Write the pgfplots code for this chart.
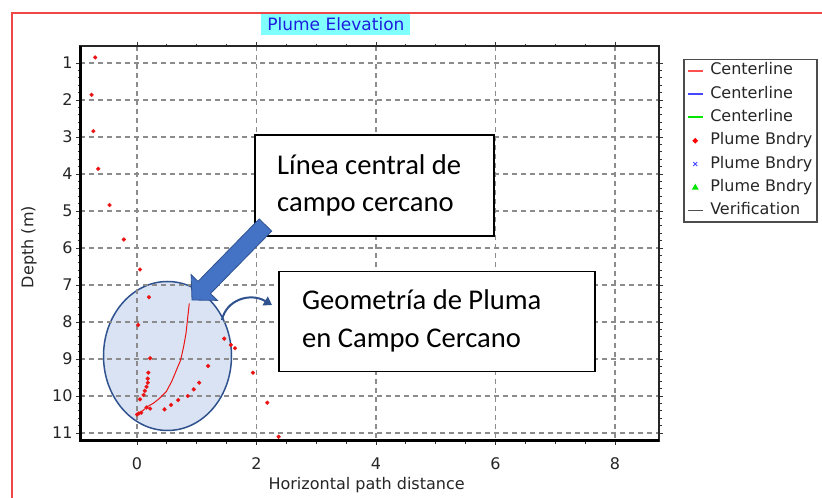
\documentclass[border=0pt]{standalone}
\usepackage{pgfplots}
\pgfplotsset{compat=1.18}
\usepackage{fontspec}
\setmainfont{DejaVu Sans}
\newfontfamily\carlito{Carlito}
\usetikzlibrary{arrows.meta}

\definecolor{ellfill}{RGB}{218,227,243}
\definecolor{elldraw}{RGB}{47,82,143}
\definecolor{arrfill}{RGB}{68,114,196}
\definecolor{gridgray}{RGB}{140,140,140}
\definecolor{ptred}{RGB}{235,20,20}
\definecolor{titlebg}{RGB}{128,255,255}
\definecolor{titlefg}{RGB}{30,30,220}
\definecolor{frame}{RGB}{240,70,70}
\definecolor{legred}{RGB}{255,80,80}
\definecolor{legblue}{RGB}{70,70,255}
\definecolor{leggreen}{RGB}{0,230,0}
\definecolor{leggray}{RGB}{80,80,80}
\newcommand{\chartfont}{\fontsize{16bp}{19bp}\selectfont}

\begin{document}
\begin{tikzpicture}
\useasboundingbox (0,0) rectangle (822bp,498bp);
\fill[white] (0,0) rectangle (822bp,498bp);
\begin{scope}[x=1bp,y=-1bp,yshift=498bp]
 \draw[frame, line width=1.2bp] (12,498) -- (12,13) -- (822,13);
 \draw[elldraw, fill=ellfill, line width=1.5bp] (167.5,356) ellipse [x radius=64bp, y radius=74.5bp];
\end{scope}

\begin{axis}[
  at={(369.5bp,254.5bp)}, anchor=center,
  scale only axis, width=579bp, height=395bp,
  xmin=-0.954, xmax=8.736, ymin=0.541, ymax=11.216, y dir=reverse,
  xtick={0,2,4,6,8}, ytick={1,2,3,4,5,6,7,8,9,10,11},
  minor x tick num=3, minor y tick num=4,
  tick align=outside, major tick length=4bp, minor tick length=2.5bp,
  tick style={black!80, line width=0.8bp},
  grid=major, grid style={gridgray, line width=1.1bp, dash pattern=on 5bp off 4bp},
  axis line style={black!85, line width=1.5bp},
  ticklabel style={font=\chartfont, text=black!85},
  xticklabel style={yshift=-9bp},
  /pgf/number format/assume math mode=true,
  xlabel={Horizontal path distance}, ylabel={Depth (m)},
  xlabel style={at={(axis description cs:0.495,-0.111)}, anchor=center, font=\chartfont, text=black!85},
  ylabel style={at={(axis description cs:-0.088,0.491)}, anchor=center, font=\chartfont, text=black!85},
  title={Plume Elevation},
  title style={at={(axis description cs:0.442,1.053)}, anchor=center, yshift=-5bp, fill=titlebg, text=titlefg, font=\fontsize{17bp}{20bp}\selectfont, inner xsep=6bp, inner ysep=4bp},
  legend style={at={(axis description cs:1.0415,0.968)}, anchor=north west, draw=black!70, line width=1.5bp, fill=white, font=\chartfont, text=black!85, row sep=4.3bp, nodes={inner sep=1.5bp, text height=12bp, text depth=4bp}, /tikz/every odd column/.append style={column sep=5bp}},
  legend cell align=left,
]
\addplot[ptred, line width=1bp, legend image code/.code={\draw[legred, line width=2bp] (0bp,0bp)--(15bp,0bp);}] coordinates {
(0.875,7.50) (0.85,7.86) (0.82,8.31) (0.78,8.67) (0.73,9.03) (0.66,9.30) (0.58,9.61) (0.49,9.88) (0.38,10.06) (0.27,10.20) (0.17,10.29) (0.11,10.38) (0.05,10.45)
};
\addlegendentry{Centerline}
\addlegendimage{legend image code/.code={\draw[legblue, line width=2bp] (0bp,0bp)--(15bp,0bp);}}
\addlegendentry{Centerline}
\addlegendimage{legend image code/.code={\draw[leggreen, line width=2bp] (0bp,0bp)--(15bp,0bp);}}
\addlegendentry{Centerline}
\addplot[only marks, mark=*, mark size=1.9bp, ptred, legend image code/.code={\fill[red](7.5bp,0bp) circle (1.8bp);}] coordinates {
(-0.70,0.85) (-0.76,1.86) (-0.73,2.84) (-0.65,3.86) (-0.46,4.84) (-0.22,5.77)
(0.05,6.58) (0.20,7.33) (0.02,8.08) (0.22,8.98) (0.19,9.37) (0.18,9.53) (0.18,9.64) (0.16,9.75) (0.13,9.86) (0.11,9.97) (0.05,10.09) (0.16,10.31) (0.22,10.34) (0.07,10.45) (0.03,10.47) (0.00,10.50)
(1.46,8.45) (1.57,8.62) (1.64,8.71) (1.19,9.19) (1.94,9.37) (1.04,9.64) (0.95,9.82) (0.85,10.0) (0.69,10.11) (0.57,10.24) (0.46,10.36) (2.18,10.18) (2.37,11.1)
};
\addlegendentry{Plume Bndry}
\addlegendimage{legend image code/.code={\draw[legblue, line width=0.9bp] (5.5bp,-2bp)--(9.5bp,2bp) (5.5bp,2bp)--(9.5bp,-2bp);}}
\addlegendentry{Plume Bndry}
\addlegendimage{legend image code/.code={\fill[leggreen] (5.3bp,-1.6bp)--(9.7bp,-1.6bp)--(7.5bp,2.2bp)--cycle;}}
\addlegendentry{Plume Bndry}
\addlegendimage{legend image code/.code={\draw[leggray, line width=1.2bp] (0bp,0bp)--(15bp,0bp);}}
\addlegendentry{Verification}
\end{axis}

\begin{scope}[x=1bp,y=-1bp,yshift=498bp]
 \draw[black, line width=3bp] (80,46) -- (80,441) -- (659,441);
 % box 1
 \draw[black, line width=1.5bp, fill=white] (255,135) rectangle (494,236);
 \node[anchor=base west, inner sep=0] at (277,175) {\carlito\fontsize{28.6bp}{34bp}\selectfont Línea central de};
 \node[anchor=base west, inner sep=0] at (277,212) {\carlito\fontsize{28.6bp}{34bp}\selectfont campo cercano};
 % big arrow
 \draw[elldraw, fill=arrfill, line width=0.8bp] (259.2,218.9) -- (198,281.4) -- (191.1,274.6) -- (192,300) -- (217.4,300.4) -- (210.5,293.6) -- (271.7,231.1) -- cycle;
 % curved arrow
 \draw[elldraw, line width=2bp, -{Triangle[length=8bp,width=10bp]}] (222,320) .. controls (226,300) and (250,292) .. (272,305);
 % box 2
 \draw[black, line width=1.5bp, fill=white] (279,271.7) rectangle (595,371.7);
 \node[anchor=base west, inner sep=0] at (302,310) {\carlito\fontsize{28.6bp}{34bp}\selectfont Geometría de Pluma};
 \node[anchor=base west, inner sep=0] at (302,348) {\carlito\fontsize{28.6bp}{34bp}\selectfont en Campo Cercano};
\end{scope}
\end{tikzpicture}
\end{document}
